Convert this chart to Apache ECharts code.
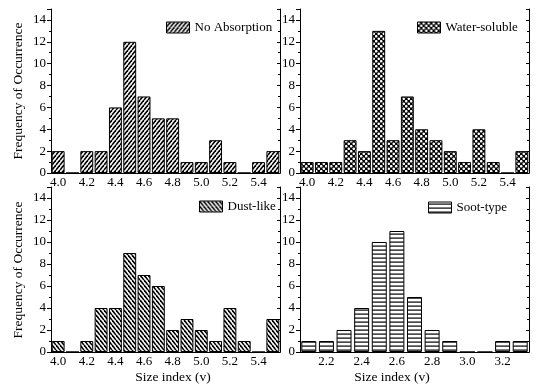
<!DOCTYPE html>
<html>
<head>
<meta charset="utf-8">
<script src="https://cdn.jsdelivr.net/npm/echarts@6/dist/echarts.min.js"></script>
<style>html,body{margin:0;padding:0;background:#fff}#c{width:540px;height:384px}</style>
</head>
<body>
<div id="c"></div>
<script>
// ---- data ----
const sizeBins = ['4.0','4.1','4.2','4.3','4.4','4.5','4.6','4.7','4.8','4.9','5.0','5.1','5.2','5.3','5.4','5.5'];
const sootBins = ['2.1','2.2','2.3','2.4','2.5','2.6','2.7','2.8','2.9','3.0','3.1','3.2','3.3'];
const noAbsorption = [2,0,2,2,6,12,7,5,5,1,1,3,1,0,1,2];
const waterSoluble = [1,1,1,3,2,13,3,7,4,3,2,1,4,1,0,2];
const dustLike     = [1,0,1,4,4,9,7,6,2,3,2,1,4,1,0,3];
const sootType     = [1,1,2,4,10,11,5,2,1,0,0,1,1];
const seriesNames  = ['No Absorption','Water-soluble','Dust-like','Soot-type'];
const yTitle = 'Frequency of Occurrence';
const xTitle = 'Size index (v)';

// ---- patterns ----
function mk(w,h,draw){const c=document.createElement('canvas');c.width=w;c.height=h;const g=c.getContext('2d');g.fillStyle='#fff';g.fillRect(0,0,w,h);draw(g,w,h);return {image:c,repeat:'repeat'};}
const patSlash = mk(4,5,(g,w,h)=>{g.strokeStyle='#000';g.lineWidth=1.6;for(let k=-1;k<=1;k++){g.beginPath();g.moveTo(k*w,h);g.lineTo(k*w+w,0);g.stroke();}});
const patBack  = mk(4,5,(g,w,h)=>{g.strokeStyle='#000';g.lineWidth=1.6;for(let k=-1;k<=1;k++){g.beginPath();g.moveTo(k*w,0);g.lineTo(k*w+w,h);g.stroke();}});
const patDots  = mk(5,5,(g,w,h)=>{g.fillStyle='#000';g.fillRect(0,0,w,h);g.fillStyle='#fff';[[1.25,1.25],[3.75,3.75]].forEach(p=>{g.beginPath();g.arc(p[0],p[1],1.3,0,Math.PI*2);g.fill();});});
const patHoriz = mk(8,4,(g,w,h)=>{g.fillStyle='#000';g.fillRect(0,1.5,w,1.2);});
const pats = [patSlash, patDots, patBack, patHoriz];

const font = 'Liberation Serif';
const grids = [
  {left:51, top:9,   width:229, height:164},
  {left:300,top:9,   width:229, height:164},
  {left:51, top:187, width:229, height:165},
  {left:300,top:187, width:229, height:165}
];
const cats = [sizeBins,sizeBins,sizeBins,sootBins];
const vals = [noAbsorption,waterSoluble,dustLike,sootType];
const labelFn = [i=>i%2===0,i=>i%2===0,i=>i%2===0,i=>i%2===1];

const xAxis=[], yAxis=[], series=[], legend=[];
grids.forEach((g,i)=>{
  xAxis.push({type:'category',gridIndex:i,data:cats[i],position:'bottom',
    axisLine:{lineStyle:{color:'#000',width:1}},axisTick:{show:false},
    axisLabel:{interval:labelFn[i],color:'#000',fontFamily:font,fontSize:13,margin:3}});
  xAxis.push({type:'category',gridIndex:i,data:cats[i],position:'top',
    axisLine:{lineStyle:{color:'#000',width:1}},
    axisTick:{inside:true,length:3,interval:labelFn[i],alignWithLabel:true,lineStyle:{color:'#000'}},
    axisLabel:{show:false}});
  yAxis.push({type:'value',gridIndex:i,min:0,max:15,interval:2,position:'left',
    axisLine:{show:true,lineStyle:{color:'#000',width:1}},
    axisTick:{show:true,length:4,lineStyle:{color:'#000'}},
    minorTick:{show:true,splitNumber:2,length:2,lineStyle:{color:'#000'}},
    splitLine:{show:false},
    axisLabel:{color:'#000',fontFamily:font,fontSize:13,margin:5,showMaxLabel:false}});
  yAxis.push({type:'value',gridIndex:i,min:0,max:15,interval:2,position:'right',
    axisLine:{show:true,lineStyle:{color:'#000',width:1}},
    axisTick:{show:true,inside:true,length:3,lineStyle:{color:'#000'}},
    minorTick:{show:true,splitNumber:2,length:2,lineStyle:{color:'#000'}},
    splitLine:{show:false},axisLabel:{show:false}});
  series.push({type:'bar',name:seriesNames[i],xAxisIndex:2*i,yAxisIndex:2*i,data:vals[i],
    barCategoryGap: i===3?'15%':'10%',
    itemStyle:{color:pats[i],borderColor:'#000',borderWidth:1},
    emphasis:{disabled:true}});
});
const legPos=[{left:166,top:21},{left:417,top:21},{left:199,top:200},{left:428,top:201}];
legPos.forEach((p,i)=>{
  legend.push({data:[seriesNames[i]],left:p.left,top:p.top,icon:'rect',itemWidth:23,itemHeight:11,
    selectedMode:false,padding:0,textStyle:{color:'#000',fontFamily:font,fontSize:13},
    itemStyle:{borderColor:'#000',borderWidth:1}});
});
const graphic=[
  {type:'text',x:18,y:91,rotation:Math.PI/2,style:{text:yTitle,font:'13.5px "Liberation Serif"',fill:'#000',align:'center',verticalAlign:'middle'}},
  {type:'text',x:18,y:270,rotation:Math.PI/2,style:{text:yTitle,font:'13.5px "Liberation Serif"',fill:'#000',align:'center',verticalAlign:'middle'}},
  {type:'text',x:173,y:377,style:{text:xTitle,font:'13.5px "Liberation Serif"',fill:'#000',align:'center',verticalAlign:'middle'}},
  {type:'text',x:392,y:377,style:{text:xTitle,font:'13.5px "Liberation Serif"',fill:'#000',align:'center',verticalAlign:'middle'}}
];
const chart=echarts.init(document.getElementById('c'),null,{renderer:'canvas'});
chart.setOption({animation:false,backgroundColor:'#fff',grid:grids,xAxis,yAxis,series,legend,graphic});
</script>
</body>
</html>
